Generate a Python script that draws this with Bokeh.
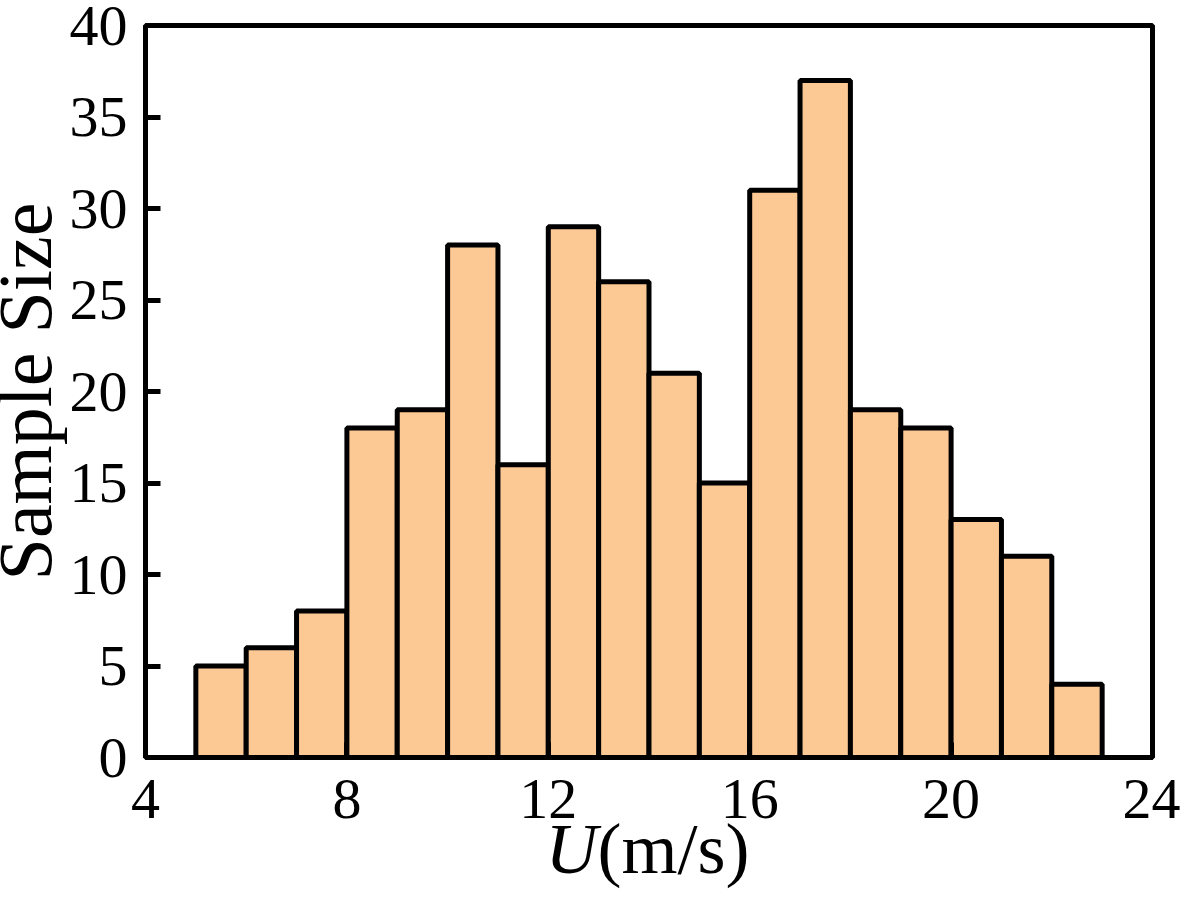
from bokeh.plotting import figure
from bokeh.models import ColumnDataSource, Range1d, FixedTicker, Label
from bokeh.embed import file_html
from bokeh.resources import INLINE

# Data: histogram of wind speed U (m/s), 1 m/s bins from 5 to 23
bin_left = [5, 6, 7, 8, 9, 10, 11, 12, 13, 14, 15, 16, 17, 18, 19, 20, 21, 22]
bin_right = [6, 7, 8, 9, 10, 11, 12, 13, 14, 15, 16, 17, 18, 19, 20, 21, 22, 23]
counts = [5, 6, 8, 18, 19, 28, 16, 29, 26, 21, 15, 31, 37, 19, 18, 13, 11, 4]
x_ticks = [4, 8, 12, 16, 20, 24]
y_ticks = [0, 5, 10, 15, 20, 25, 30, 35, 40]

FONT = "Liberation Serif"

src = ColumnDataSource(dict(left=bin_left, right=bin_right, top=counts, bottom=[0] * len(counts)))

p = figure(output_backend="svg", toolbar_location=None,
           x_range=Range1d(4, 24), y_range=Range1d(0, 40),
           frame_width=1007, frame_height=732,
           min_border_left=170, min_border_right=28, min_border_top=25, min_border_bottom=0,
           styles={"margin-left": "-25px"})

p.quad(left="left", right="right", top="top", bottom="bottom", source=src,
       fill_color="#FCC995", line_color="black", line_width=5)

p.xgrid.visible = False
p.ygrid.visible = False
p.outline_line_color = "black"
p.outline_line_width = 5
p.outline_line_alpha = 1

for ax in (p.xaxis[0], p.yaxis[0]):
    ax.axis_line_color = "black"
    ax.axis_line_width = 5
    ax.major_tick_line_color = "black"
    ax.major_tick_line_width = 5
    ax.major_tick_in = 15
    ax.major_tick_out = 0
    ax.minor_tick_line_color = None
    ax.major_label_text_font = FONT
    ax.major_label_text_font_size = "58px"
    ax.major_label_text_color = "black"

p.xaxis[0].ticker = FixedTicker(ticks=x_ticks)
p.yaxis[0].ticker = FixedTicker(ticks=y_ticks)
p.xaxis[0].major_label_standoff = 22
p.yaxis[0].major_label_standoff = 18

p.yaxis[0].axis_label = "Sample Size"
p.yaxis[0].axis_label_text_font = FONT
p.yaxis[0].axis_label_text_font_size = "76px"
p.yaxis[0].axis_label_text_font_style = "normal"
p.yaxis[0].axis_label_text_color = "black"
p.yaxis[0].axis_label_standoff = 0

# x-axis title with italic U, in the panels below the x axis (screen units from panel bottom)
p.add_layout(Label(x=400, y=52, x_units="screen", y_units="screen", text="U",
                   text_font=FONT, text_font_size="72px", text_font_style="italic",
                   text_align="left", text_baseline="alphabetic", text_color="black"), "below")
p.add_layout(Label(x=452, y=132, x_units="screen", y_units="screen", text="(m/s)",
                   text_font=FONT, text_font_size="72px", text_font_style="normal",
                   text_align="left", text_baseline="alphabetic", text_color="black"), "below")

open("out.html", "w").write(file_html(p, INLINE))
